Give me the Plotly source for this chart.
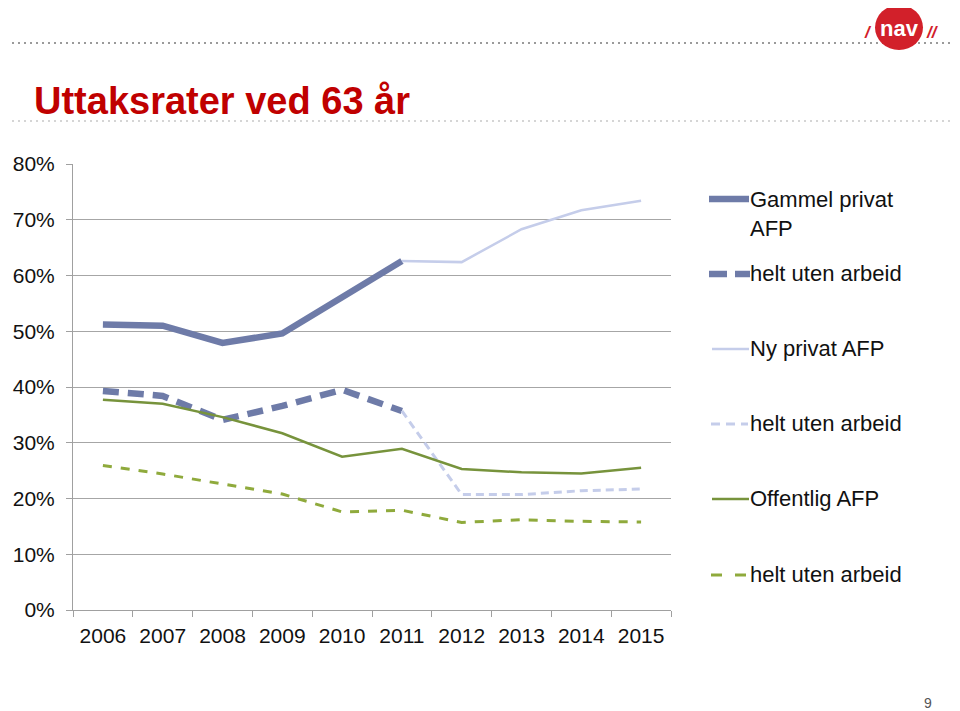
import plotly.graph_objects as go

years = ["2006", "2007", "2008", "2009", "2010", "2011", "2012", "2013", "2014", "2015"]
gammel_privat = [0.512, 0.510, 0.479, 0.496, 0.561, 0.626, None, None, None, None]
gammel_uten = [0.393, 0.384, 0.341, 0.366, 0.395, 0.357, None, None, None, None]
ny_privat = [None, None, None, None, None, 0.626, 0.624, 0.683, 0.717, 0.734]
ny_uten = [None, None, None, None, None, 0.357, 0.207, 0.207, 0.214, 0.217]
offentlig = [0.377, 0.370, 0.346, 0.317, 0.275, 0.289, 0.253, 0.247, 0.245, 0.255]
offentlig_uten = [0.259, 0.244, 0.226, 0.208, 0.176, 0.179, 0.157, 0.162, 0.159, 0.158]

legend_labels = ["Gammel privat<br>AFP", "helt uten arbeid", "Ny privat AFP",
                 "helt uten arbeid", "Offentlig AFP", "helt uten arbeid"]

C_OLD = "#6E7BA8"
C_NEW = "#C5CDEA"
C_OFF = "#77933C"
C_OFF2 = "#8FAA3C"
FONT = "Liberation Sans, Arial, sans-serif"

# page body has an 8px margin in the browser; compensate
OFF = 8
W, H = 960 - OFF, 711 - OFF
L, R, T, B = 73, 671, 164, 610


def px(x):
    return (x - L) / (R - L)


def py(y):
    return (B - y) / (B - T)


styles = [
    dict(color=C_OLD, width=6.5, dash="solid"),
    dict(color=C_OLD, width=6.5, dash="16px,9px"),
    dict(color=C_NEW, width=2.5, dash="solid"),
    dict(color=C_NEW, width=3, dash="8px,5px"),
    dict(color=C_OFF, width=2.5, dash="solid"),
    dict(color=C_OFF2, width=3, dash="9px,9px"),
]
series = [gammel_privat, gammel_uten, ny_privat, ny_uten, offentlig, offentlig_uten]

fig = go.Figure()
for vals, st, name in zip(series, styles, legend_labels):
    fig.add_trace(go.Scatter(x=years, y=vals, mode="lines", line=st,
                             name=name, showlegend=False, connectgaps=False,
                             hoverinfo="skip"))

shapes = []
annotations = []

# top dotted rules
shapes.append(dict(type="line", xref="paper", yref="paper", x0=px(0), x1=px(960),
                   y0=py(43), y1=py(43), line=dict(color="#9A9A9A", width=2, dash="2px,4px")))
shapes.append(dict(type="line", xref="paper", yref="paper", x0=px(0), x1=px(960),
                   y0=py(121), y1=py(121), line=dict(color="#C8C8C8", width=1.5, dash="2px,4px")))

# NAV logo
shapes.append(dict(type="circle", xref="paper", yref="paper", x0=px(875), x1=px(923),
                   y0=py(5), y1=py(50), fillcolor="#D2202A", line=dict(color="#D2202A", width=0)))
annotations.append(dict(text="<b>nav</b>", xref="paper", yref="paper", x=px(899), y=py(29),
                        showarrow=False, font=dict(family=FONT, size=22, color="white"),
                        xanchor="center", yanchor="middle"))
annotations.append(dict(text="<b><i>/</i></b>", xref="paper", yref="paper", x=px(868), y=py(33),
                        showarrow=False, font=dict(family=FONT, size=17, color="#D2202A"),
                        xanchor="center", yanchor="middle"))
annotations.append(dict(text="<b><i>//</i></b>", xref="paper", yref="paper", x=px(932), y=py(33),
                        showarrow=False, font=dict(family=FONT, size=17, color="#D2202A"),
                        xanchor="center", yanchor="middle"))

# title
annotations.append(dict(text="<b>Uttaksrater ved 63 år</b>", xref="paper", yref="paper",
                        x=px(32), y=py(101), showarrow=False, xanchor="left", yanchor="middle",
                        font=dict(family=FONT, size=38, color="#C00000")))

# page number
annotations.append(dict(text="9", xref="paper", yref="paper", x=px(928), y=py(703),
                        showarrow=False, xanchor="center", yanchor="middle",
                        font=dict(family=FONT, size=14, color="#555555")))

# manual legend
leg_y = [199, 274, 349, 424, 499, 575]
for i, (lab, st, yy) in enumerate(zip(legend_labels, styles, leg_y)):
    if i == 1:
        for xa, xb in [(709, 727), (735, 750)]:
            shapes.append(dict(type="line", xref="paper", yref="paper", x0=px(xa), x1=px(xb),
                               y0=py(yy), y1=py(yy), line=dict(color=st["color"], width=st["width"])))
    elif i == 3:
        for xa, xb in [(711, 720), (726, 735), (741, 748)]:
            shapes.append(dict(type="line", xref="paper", yref="paper", x0=px(xa), x1=px(xb),
                               y0=py(yy), y1=py(yy), line=dict(color=st["color"], width=st["width"])))
    elif i == 5:
        for xa, xb in [(711, 722), (735, 746)]:
            shapes.append(dict(type="line", xref="paper", yref="paper", x0=px(xa), x1=px(xb),
                               y0=py(yy), y1=py(yy), line=dict(color=st["color"], width=st["width"])))
    else:
        x0 = 709 if i == 0 else 712
        shapes.append(dict(type="line", xref="paper", yref="paper", x0=px(x0), x1=px(749),
                           y0=py(yy), y1=py(yy), line=dict(color=st["color"], width=st["width"])))
    if i == 0:
        annotations.append(dict(text=lab, xref="paper", yref="paper", x=px(748), y=py(yy - 14),
                                showarrow=False, xanchor="left", yanchor="top", align="left",
                                font=dict(family=FONT, size=22, color="#111111")))
    else:
        annotations.append(dict(text=lab, xref="paper", yref="paper", x=px(748), y=py(yy - 1),
                                showarrow=False, xanchor="left", yanchor="middle", align="left",
                                font=dict(family=FONT, size=22, color="#111111")))

fig.update_layout(
    width=W, height=H,
    margin=dict(l=L - OFF, r=960 - R, t=T - OFF, b=711 - B, pad=0, autoexpand=False),
    paper_bgcolor="white", plot_bgcolor="white",
    showlegend=False,
    shapes=shapes, annotations=annotations,
    xaxis=dict(type="category", range=[-0.5, 9.5], tickson="boundaries", ticks="outside",
               ticklen=6, tickcolor="#A0A0A0", showline=True, linecolor="#A0A0A0", linewidth=1,
               showgrid=False, tickfont=dict(family=FONT, size=21, color="#111111"),
               ticklabelstandoff=7, fixedrange=True, automargin=False),
    yaxis=dict(range=[0, 0.8], dtick=0.1, tickformat=".0%", ticks="outside", ticklen=6,
               tickcolor="#A0A0A0", showline=True, linecolor="#A0A0A0", linewidth=1,
               showgrid=True, gridcolor="#A6A6A6", gridwidth=1, zeroline=False,
               tickfont=dict(family=FONT, size=21, color="#111111"), ticklabelstandoff=7,
               fixedrange=True, automargin=False),
)

fig.write_html("out.html")
